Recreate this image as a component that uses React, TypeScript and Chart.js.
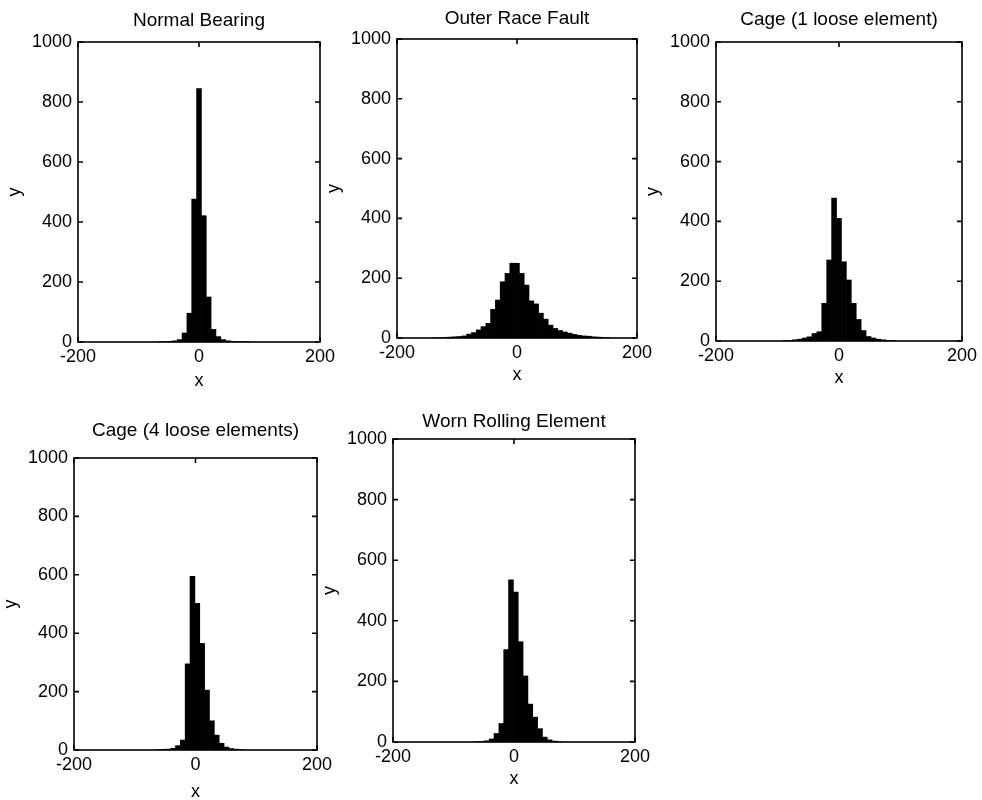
import React, { useEffect, useRef } from "react";
import { Chart, registerables } from "chart.js";

Chart.register(...registerables);

const FONT = "'Liberation Sans', Arial, Helvetica, sans-serif";
Chart.defaults.font.family = FONT;
Chart.defaults.color = "#000";

// Tick values shared by all panels
const xTicks = [-200, 0, 200];
const yTicks = [0, 200, 400, 600, 800, 1000];

// Panel titles
const titles = [
  "Normal Bearing",
  "Outer Race Fault",
  "Cage (1 loose element)",
  "Cage (4 loose elements)",
  "Worn Rolling Element",
];

// Histogram bin centres and counts
const normalX = [-64, -56, -48, -40, -32, -24, -16, -8, 0, 8, 16, 24, 32, 40, 48, 56, 64, 72, 80];
const normalY = [1, 1, 2, 4, 8, 30, 96, 476, 845, 421, 150, 42, 18, 8, 4, 2, 1, 1, 1];

const outerX = [-136, -128, -120, -112, -104, -96, -88, -80, -72, -64, -56, -48, -40, -32, -24, -16, -8, 0, 8, 16, 24, 32, 40, 48, 56, 64, 72, 80, 88, 96, 104, 112, 120, 128, 136, 144, 152];
const outerY = [1, 1, 2, 3, 4, 5, 7, 13, 18, 27, 38, 49, 96, 127, 188, 216, 250, 250, 216, 177, 124, 114, 83, 63, 43, 32, 25, 20, 16, 12, 9, 7, 6, 4, 3, 2, 1];

const cage1X = [-88, -80, -72, -64, -56, -48, -40, -32, -24, -16, -8, 0, 8, 16, 24, 32, 40, 48, 56, 64, 72, 80, 88];
const cage1Y = [1, 2, 4, 6, 10, 14, 25, 31, 126, 271, 478, 410, 265, 204, 126, 72, 35, 15, 10, 6, 4, 2, 1];

const cage4X = [-61, -53, -45, -37, -29, -21, -13, -5, 3, 11, 19, 27, 35, 43, 51, 59, 67, 75];
const cage4Y = [1, 2, 3, 6, 15, 34, 295, 595, 502, 365, 205, 100, 51, 23, 10, 5, 3, 1];

const wornX = [-61, -53, -45, -37, -29, -21, -13, -5, 3, 11, 19, 27, 35, 43, 51, 59, 67, 75];
const wornY = [1, 2, 4, 10, 28, 61, 305, 535, 495, 331, 218, 125, 82, 44, 16, 7, 3, 1];

type PanelDef = {
  title: string;
  xs: number[];
  ys: number[];
  box: [number, number, number, number]; // plot-area left, top, right, bottom
  titleGap: number;
  xLabelDist: number;
};

const panels: PanelDef[] = [
  { title: titles[0], xs: normalX, ys: normalY, box: [78, 42, 320, 342], titleGap: 10, xLabelDist: 39 },
  { title: titles[1], xs: outerX, ys: outerY, box: [397, 39, 637, 338], titleGap: 9, xLabelDist: 37 },
  { title: titles[2], xs: cage1X, ys: cage1Y, box: [716, 42, 962, 341], titleGap: 11, xLabelDist: 37 },
  { title: titles[3], xs: cage4X, ys: cage4Y, box: [74, 458, 317, 750], titleGap: 16, xLabelDist: 42 },
  { title: titles[4], xs: wornX, ys: wornY, box: [393, 439, 635, 742], titleGap: 6, xLabelDist: 37 },
];

const W_Y = 80;
const H_X = 60;
const PAD_R = 25;
const FS = 18;
const LH = FS * 1.2;
const TFS = 19;
const TLH = TFS * 1.2;
const TITLE_PT = 1.2;

const boxPlugin = {
  id: "matlabBox",
  afterDatasetsDraw(chart: any) {
    const { ctx, chartArea, scales } = chart;
    const { left, right, top, bottom } = chartArea;
    const x = scales.x;
    const y = scales.y;
    ctx.save();
    ctx.strokeStyle = "#000";
    ctx.lineWidth = 1.6;
    ctx.strokeRect(left, top, right - left, bottom - top);
    const tl = 5;
    ctx.beginPath();
    xTicks.forEach((v) => {
      const px = x.getPixelForValue(v);
      ctx.moveTo(px, bottom);
      ctx.lineTo(px, bottom - tl);
      ctx.moveTo(px, top);
      ctx.lineTo(px, top + tl);
    });
    yTicks.forEach((v) => {
      const py = y.getPixelForValue(v);
      ctx.moveTo(left, py);
      ctx.lineTo(left + tl, py);
      ctx.moveTo(right, py);
      ctx.lineTo(right - tl, py);
    });
    ctx.stroke();
    ctx.restore();
  },
};

function Panel({ p }: { p: PanelDef }) {
  const ref = useRef<HTMLCanvasElement>(null);
  const [L, T, R, B] = p.box;
  const hTitle = TITLE_PT + TLH + p.titleGap;
  const left = L - W_Y;
  const top = T - hTitle;
  const width = W_Y + (R - L) + PAD_R;
  const height = Math.round(hTitle + (B - T) + H_X);

  useEffect(() => {
    if (!ref.current) return;
    const chart = new Chart(ref.current, {
      type: "bar",
      data: {
        datasets: [
          {
            data: p.xs.map((x, i) => ({ x, y: p.ys[i] })),
            backgroundColor: "#000",
            borderWidth: 0,
            barPercentage: 1,
            categoryPercentage: 1,
            grouped: false,
          } as any,
        ],
      },
      options: {
        responsive: false,
        animation: false,
        events: [],
        layout: { padding: { left: 0, right: PAD_R, top: 0, bottom: 0 } },
        plugins: {
          legend: { display: false },
          tooltip: { enabled: false },
          title: {
            display: true,
            fullSize: false,
            text: p.title,
            color: "#000",
            font: { size: TFS, weight: "normal", family: FONT },
            padding: { top: TITLE_PT, bottom: p.titleGap },
          },
        },
        scales: {
          x: {
            type: "linear",
            min: -200,
            max: 200,
            offset: false,
            afterBuildTicks: (s: any) => {
              s.ticks = xTicks.map((v) => ({ value: v }));
            },
            afterFit: (s: any) => {
              s.height = H_X;
            },
            grid: { display: false, drawTicks: false },
            border: { display: false },
            ticks: {
              color: "#000",
              font: { size: FS },
              padding: 4,
              maxRotation: 0,
              autoSkip: false,
              callback: (v: any) => String(v),
            },
            title: {
              display: true,
              text: "x",
              color: "#000",
              font: { size: FS },
              padding: { top: 0, bottom: H_X - LH / 2 - p.xLabelDist },
            },
          },
          y: {
            type: "linear",
            min: 0,
            max: 1000,
            afterBuildTicks: (s: any) => {
              s.ticks = yTicks.map((v) => ({ value: v }));
            },
            afterFit: (s: any) => {
              s.width = W_Y;
            },
            grid: { display: false, drawTicks: false },
            border: { display: false },
            ticks: {
              color: "#000",
              font: { size: FS },
              padding: 6,
              autoSkip: false,
              callback: (v: any) => String(v),
            },
            title: {
              display: true,
              text: "y",
              color: "#000",
              font: { size: FS },
              padding: { top: 17 - LH / 2, bottom: 0 },
            },
          },
        },
      } as any,
      plugins: [boxPlugin],
    });
    return () => chart.destroy();
  }, []);

  return (
    <div style={{ position: "absolute", left, top, width, height }}>
      <canvas ref={ref} width={width} height={height} style={{ display: "block" }} />
    </div>
  );
}

export default function App() {
  return (
    <div
      style={{
        position: "absolute",
        left: 0,
        top: 0,
        width: 982,
        height: 800,
        overflow: "hidden",
        background: "#fff",
      }}
    >
      {panels.map((p, i) => (
        <Panel key={i} p={p} />
      ))}
    </div>
  );
}
